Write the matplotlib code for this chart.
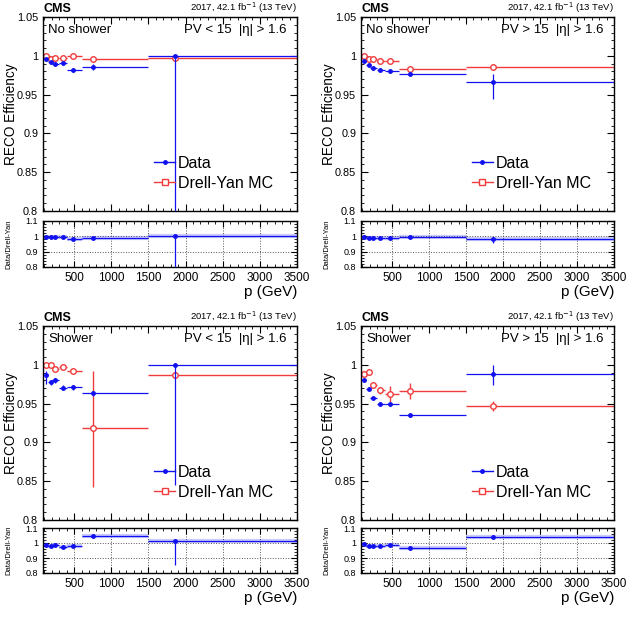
import numpy as np
import matplotlib
matplotlib.use("Agg")
import matplotlib.pyplot as plt
from matplotlib.lines import Line2D
from matplotlib.ticker import MultipleLocator, FixedLocator

plt.rcParams['font.family'] = ['Liberation Sans', 'DejaVu Sans']

# ---------------- data ----------------
bin_edges = [100, 150, 200, 300, 400, 600, 1500, 3500]
p_mean = [126, 184, 243, 343, 478, 749, 1863]

titles = ["No shower", "No shower", "Shower", "Shower"]
pv_labels = ["PV < 15", "PV > 15", "PV < 15", "PV > 15"]

# Panel A: No shower, PV < 15
data_a = [0.996, 0.9915, 0.990, 0.9905, 0.982, 0.986, 1.000]
data_a_lo = [0.0015, 0.0015, 0.0015, 0.0015, 0.002, 0.004, 0.5]
data_a_hi = [0.0015, 0.0015, 0.0015, 0.0015, 0.002, 0.004, 0.0]
mc_a = [1.000, 0.9958, 0.9975, 0.9975, 1.000, 0.9958, 0.9975]
mc_a_lo = [0.001, 0.001, 0.001, 0.001, 0.001, 0.002, 0.002]
mc_a_hi = [0.0, 0.001, 0.001, 0.001, 0.0, 0.002, 0.002]

# Panel B: No shower, PV > 15
data_b = [0.9936, 0.988, 0.9846, 0.9816, 0.980, 0.9765, 0.9658]
data_b_lo = [0.0008, 0.0008, 0.0008, 0.0008, 0.001, 0.0015, 0.021]
data_b_hi = [0.0008, 0.0008, 0.0008, 0.0008, 0.001, 0.0015, 0.011]
mc_b = [1.000, 0.9957, 0.9957, 0.9936, 0.9936, 0.9829, 0.985]
mc_b_lo = [0.001, 0.001, 0.001, 0.001, 0.001, 0.004, 0.003]
mc_b_hi = [0.0, 0.001, 0.001, 0.001, 0.001, 0.004, 0.003]

# Panel C: Shower, PV < 15
data_c = [0.9864, 0.9774, 0.980, 0.9704, 0.971, 0.9632, 1.000]
data_c_lo = [0.011, 0.003, 0.003, 0.003, 0.003, 0.003, 0.155]
data_c_hi = [0.005, 0.003, 0.003, 0.003, 0.003, 0.003, 0.0]
mc_c = [1.000, 1.000, 0.9949, 0.997, 0.9915, 0.918, 0.9872]
mc_c_lo = [0.001, 0.001, 0.002, 0.001, 0.002, 0.075, 0.002]
mc_c_hi = [0.0, 0.0, 0.002, 0.001, 0.002, 0.074, 0.002]

# Panel D: Shower, PV > 15
data_d = [0.980, 0.9685, 0.957, 0.950, 0.9495, 0.935, 0.9877]
data_d_lo = [0.0015, 0.0015, 0.0015, 0.0015, 0.0015, 0.002, 0.014]
data_d_hi = [0.0015, 0.0015, 0.0015, 0.0015, 0.0015, 0.002, 0.012]
mc_d = [0.9884, 0.9906, 0.9735, 0.967, 0.9627, 0.966, 0.947]
mc_d_lo = [0.004, 0.004, 0.004, 0.004, 0.01, 0.01, 0.006]
mc_d_hi = [0.004, 0.004, 0.004, 0.004, 0.01, 0.01, 0.006]

panels = [
    (data_a, data_a_lo, data_a_hi, mc_a, mc_a_lo, mc_a_hi),
    (data_b, data_b_lo, data_b_hi, mc_b, mc_b_lo, mc_b_hi),
    (data_c, data_c_lo, data_c_hi, mc_c, mc_c_lo, mc_c_hi),
    (data_d, data_d_lo, data_d_hi, mc_d, mc_d_lo, mc_d_hi),
]

x_ticks = [500, 1000, 1500, 2000, 2500, 3000, 3500]
main_yticks = [0.8, 0.85, 0.9, 0.95, 1.0, 1.05]
ratio_yticks = [0.8, 0.9, 1.0, 1.1]

# ---------------- layout ----------------
W, H = 636, 619
fig = plt.figure(figsize=(W / 100, H / 100), dpi=100)

BLUE = '#1010f0'
RED = '#f03c3c'

def px_axes(l, r, t, b):
    return fig.add_axes([l / W, 1 - b / H, (r - l) / W, (b - t) / H])

cols = [(43, 297), (361, 614)]
rows = [((17, 211), (221, 267)), ((326, 520), (528, 573))]

def style_ticks(ax):
    ax.tick_params(which='both', direction='in', top=True, right=True)
    ax.tick_params(which='major', length=5, width=0.8)
    ax.tick_params(which='minor', length=2.5, width=0.6)
    for s in ax.spines.values():
        s.set_linewidth(1.0)

edges = np.array(bin_edges, dtype=float)
xm = np.array(p_mean, dtype=float)
xlo = xm - edges[:-1]
xhi = edges[1:] - xm

for i, (dat, dlo, dhi, mc, mlo, mhi) in enumerate(panels):
    r, c = divmod(i, 2)
    l, rr = cols[c]
    (mt, mb), (rt, rb) = rows[r]
    ax = px_axes(l, rr, mt, mb)
    axr = px_axes(l, rr, rt, rb)
    width = rr - l

    dat = np.array(dat); mc = np.array(mc)
    # MC
    ax.errorbar(xm, mc, xerr=[xlo, xhi], yerr=[mlo, mhi], fmt='o', ms=4,
                mfc='white', mec=RED, mew=1.0, color=RED, ecolor=RED,
                elinewidth=1.0, capsize=0, zorder=2)
    # Data
    ax.errorbar(xm, dat, xerr=[xlo, xhi], yerr=[dlo, dhi], fmt='o', ms=2.5,
                color=BLUE, ecolor=BLUE, elinewidth=0.9, capsize=0, zorder=3)

    ax.set_xlim(80, 3500)
    ax.set_ylim(0.8, 1.05)
    ax.xaxis.set_major_locator(FixedLocator(x_ticks))
    ax.xaxis.set_minor_locator(MultipleLocator(100))
    ax.yaxis.set_major_locator(FixedLocator(main_yticks))
    ax.yaxis.set_minor_locator(MultipleLocator(0.01))
    ax.set_xticklabels([])
    ax.set_yticklabels(['0.8', '0.85', '0.9', '0.95', '1', '1.05'], fontsize=7.8)
    style_ticks(ax)
    ax.set_ylabel('RECO Efficiency', fontsize=9.8)
    ax.yaxis.set_label_coords(-25 / width, 0.5)

    ax.text(0.02, 0.965, titles[i], transform=ax.transAxes, fontsize=9.5,
            ha='left', va='top')
    ax.text(0.96, 0.965, pv_labels[i] + '  |\u03b7| > 1.6', transform=ax.transAxes,
            fontsize=9.5, ha='right', va='top')
    ax.text(0.0, 1.01, 'CMS', transform=ax.transAxes, fontsize=9,
            fontweight='bold', ha='left', va='bottom')
    ax.text(1.0, 1.01, '2017, 42.1 fb$^{-1}$ (13 TeV)', transform=ax.transAxes,
            fontsize=6.8, ha='right', va='bottom')

    handles = [Line2D([], [], color=BLUE, marker='o', ms=2.5, lw=1.0),
               Line2D([], [], color=RED, marker='s', ms=4, mfc='white',
                      mec=RED, lw=1.0)]
    ax.legend(handles, ['Data', 'Drell-Yan MC'], loc='lower left',
              bbox_to_anchor=(0.4, 0.055), frameon=False, fontsize=11.5,
              handlelength=1.3, handletextpad=0.2, labelspacing=0.3,
              borderaxespad=0.2)

    # ratio panel
    ratio = dat / mc
    rlo = np.array(dlo) / mc
    rhi = np.array(dhi) / mc
    axr.hlines(ratio, edges[:-1], edges[1:], color=BLUE, lw=3.0, alpha=0.22)
    axr.errorbar(xm, ratio, xerr=[xlo, xhi], yerr=[rlo, rhi], fmt='o', ms=2.5,
                 color=BLUE, ecolor=BLUE, elinewidth=0.9, capsize=0, zorder=3)
    axr.set_xlim(80, 3500)
    axr.set_ylim(0.8, 1.1)
    axr.xaxis.set_major_locator(FixedLocator(x_ticks))
    axr.xaxis.set_minor_locator(MultipleLocator(100))
    axr.yaxis.set_major_locator(FixedLocator(ratio_yticks))
    axr.yaxis.set_minor_locator(MultipleLocator(0.02))
    axr.set_xticklabels([str(t) for t in x_ticks], fontsize=8.5)
    axr.set_yticklabels(['0.8', '0.9', '1', '1.1'], fontsize=6.5)
    axr.grid(True, which='major', ls=':', lw=0.7, color='#555555')
    style_ticks(axr)
    axr.tick_params(which='major', length=4)
    axr.set_ylabel('Data/Drell-Yan', fontsize=5.5)
    axr.yaxis.set_label_coords(-31 / width, 0.5)
    axr.set_xlabel('p (GeV)', fontsize=11, loc='right', labelpad=1)

fig.savefig('out.png', dpi=100)
